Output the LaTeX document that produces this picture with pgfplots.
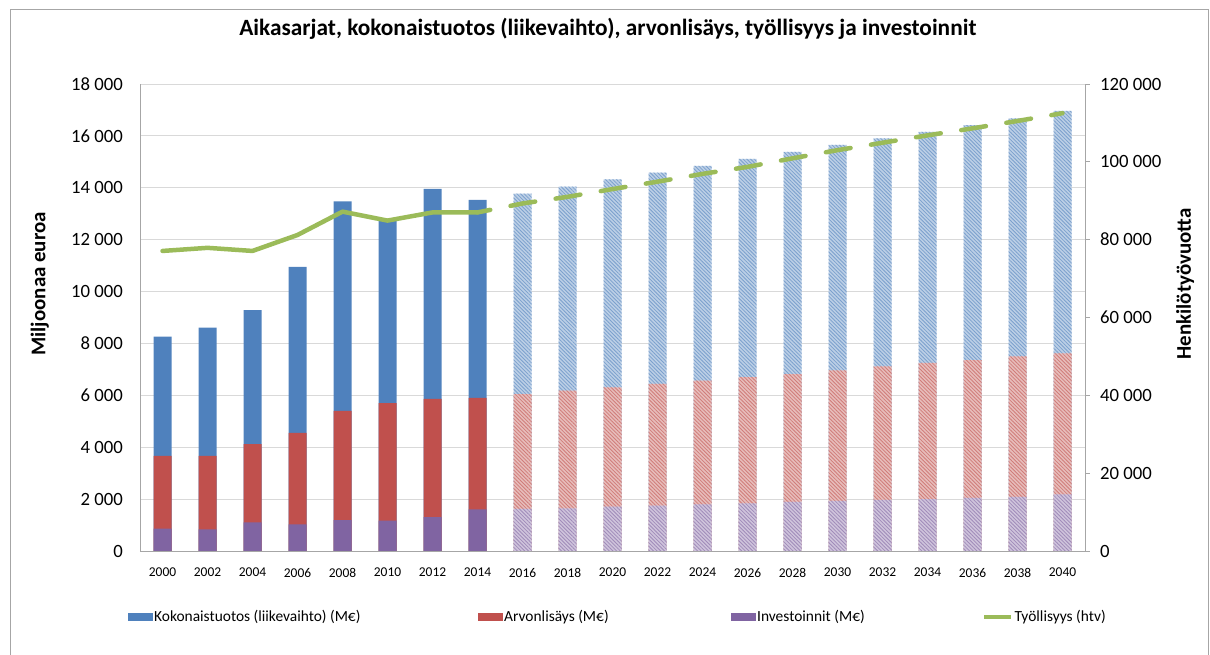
\documentclass[border=0pt]{standalone}
\usepackage{pgfplots}
\pgfplotsset{compat=1.18}
\usepackage{pgfplotstable}
\usepackage{fontspec}
\setmainfont{Carlito}
\usetikzlibrary{patterns.meta}
\definecolor{cblue}{HTML}{4F81BD}
\definecolor{cred}{HTML}{C0504D}
\definecolor{cpurple}{HTML}{8064A2}
\definecolor{cgreen}{HTML}{9BBB59}
\definecolor{cgrid}{HTML}{D9D9D9}
\definecolor{caxis}{HTML}{A6A6A6}

\pgfplotstableread{
year tot va inv emp
2000 8260 3670 860 77100
2002 8610 3670 830 77900
2004 9280 4120 1100 77100
2006 10950 4550 1030 81200
2008 13480 5400 1190 87200
2010 12760 5700 1170 84900
2012 13960 5860 1310 87000
2014 13530 5900 1600 87000
}\hist
\pgfplotstableread{
year tot va inv emp
2016 13770 6050 1620 89300
2018 14040 6180 1640 91000
2020 14320 6310 1710 93000
2022 14580 6440 1750 94900
2024 14840 6570 1800 96900
2026 15110 6700 1840 98700
2028 15380 6820 1890 100900
2030 15650 6960 1930 103000
2032 15900 7120 1970 104900
2034 16150 7250 2000 106800
2036 16410 7360 2050 108600
2038 16670 7500 2090 110500
2040 16960 7620 2180 112500
}\fut
\pgfplotstableread{
year emp
2014 87000
2016 89300
2018 91000
2020 93000
2022 94900
2024 96900
2026 98700
2028 100900
2030 103000
2032 104900
2034 106800
2036 108600
2038 110500
2040 112500
}\empfut

\pgfplotsset{
  barleg/.style={legend image code/.code={\fill[##1] (0bp,-4bp) rectangle (25bp,4bp);}},
  lineleg/.style={legend image code/.code={\draw[##1] (0bp,0bp) -- (27bp,0bp);}},
}

\begin{document}
\begin{tikzpicture}
\useasboundingbox (0,0) rectangle (1210bp,655bp);
\draw[caxis, line width=1bp] (10bp,-20bp) rectangle (1208bp,645bp);
\begin{axis}[
  at={(140bp,104bp)}, anchor=south west, scale only axis,
  width=945bp, height=467bp,
  xmin=1999, xmax=2041, ymin=0, ymax=18000,
  axis x line*=bottom, axis y line*=left,
  axis line style={caxis, line width=0.8bp},
  xtick={2000,2002,...,2040}, ytick={0,2000,...,18000},
  major tick length=0pt,
  ymajorgrids, grid style={cgrid, line width=0.8bp},
  scaled ticks=false,
  /pgf/number format/fixed,
  /pgf/number format/assume math mode=true,
  /pgf/number format/1000 sep={\kern0.22em},
  x tick label style={/pgf/number format/1000 sep={}, font=\fontsize{13.5}{15}\selectfont, inner sep=0pt, anchor=north, yshift=-17bp},
  y tick label style={font=\fontsize{18.8}{21}\selectfont, inner sep=0pt, anchor=east, xshift=-17bp},
  ylabel={\bfseries Miljoonaa euroa},
  ylabel style={font=\fontsize{21}{24}\selectfont, at={(axis description cs:-0.106,0.572)}, anchor=center, rotate=0},
  title={\bfseries Aikasarjat, kokonaistuotos (liikevaihto), arvonlisäys, työllisyys ja investoinnit},
  title style={font=\fontsize{23.4}{27}\selectfont, at={(axis description cs:0.495,1.105)}, anchor=center},
  ybar, bar width=0.8, bar shift=0pt,
]
\addplot[fill=cblue, draw=none] table[x=year,y=tot]{\hist};
\addplot[fill=cred, draw=none] table[x=year,y=va]{\hist};
\addplot[fill=cpurple, draw=none] table[x=year,y=inv]{\hist};
\addplot[fill=cblue!38!white, draw=none, postaction={pattern={Lines[angle=-45,distance=2.6bp,line width=0.8bp]}, pattern color=cblue!75!white}] table[x=year,y=tot]{\fut};
\addplot[fill=cred!38!white, draw=none, postaction={pattern={Lines[angle=-45,distance=2.6bp,line width=0.8bp]}, pattern color=cred!75!white}] table[x=year,y=va]{\fut};
\addplot[fill=cpurple!38!white, draw=none, postaction={pattern={Lines[angle=-45,distance=2.6bp,line width=0.8bp]}, pattern color=cpurple!75!white}] table[x=year,y=inv]{\fut};
\end{axis}
\begin{axis}[
  at={(140bp,104bp)}, anchor=south west, scale only axis,
  width=945bp, height=467bp,
  xmin=1999, xmax=2041, ymin=0, ymax=120000,
  axis y line*=right, axis x line=none,
  axis line style={caxis, line width=0.8bp},
  ytick={0,20000,...,120000},
  tick align=outside, major tick length=5bp,
  ytick style={caxis, line width=0.8bp},
  scaled ticks=false,
  /pgf/number format/fixed,
  /pgf/number format/assume math mode=true,
  /pgf/number format/1000 sep={\kern0.22em},
  y tick label style={font=\fontsize{18.8}{21}\selectfont, inner sep=0pt, anchor=west, xshift=10bp},
  ylabel={\bfseries Henkilötyövuotta},
  ylabel style={font=\fontsize{21}{24}\selectfont, at={(axis description cs:1.106,0.572)}, anchor=center, rotate=0},
  legend columns=4,
  legend style={at={(axis description cs:-0.0159,-0.141)}, anchor=west, draw=none, fill=none,
    font=\fontsize{15.5}{18}\selectfont, nodes={inner sep=1bp},
    /tikz/every even column/.append style={column sep=0pt}},
  legend cell align=left,
]
\addlegendimage{barleg, fill=cblue, draw=none}
\addlegendentry{\makebox[323bp][l]{Kokonaistuotos (liikevaihto) (M€)}}
\addlegendimage{barleg, fill=cred, draw=none}
\addlegendentry{\makebox[226bp][l]{Arvonlisäys (M€)}}
\addlegendimage{barleg, fill=cpurple, draw=none}
\addlegendentry{\makebox[224bp][l]{Investoinnit (M€)}}
\addlegendimage{lineleg, cgreen, line width=4.5bp}
\addlegendentry{Työllisyys (htv)}
\addplot[cgreen, line width=4.5bp, line join=round, line cap=round, forget plot] table[x=year,y=emp]{\hist};
\addplot[cgreen, line width=4.5bp, line cap=round, dash pattern=on 25bp off 20.7bp, dash phase=12bp, forget plot] table[x=year,y=emp]{\empfut};
\end{axis}
\end{tikzpicture}
\end{document}
